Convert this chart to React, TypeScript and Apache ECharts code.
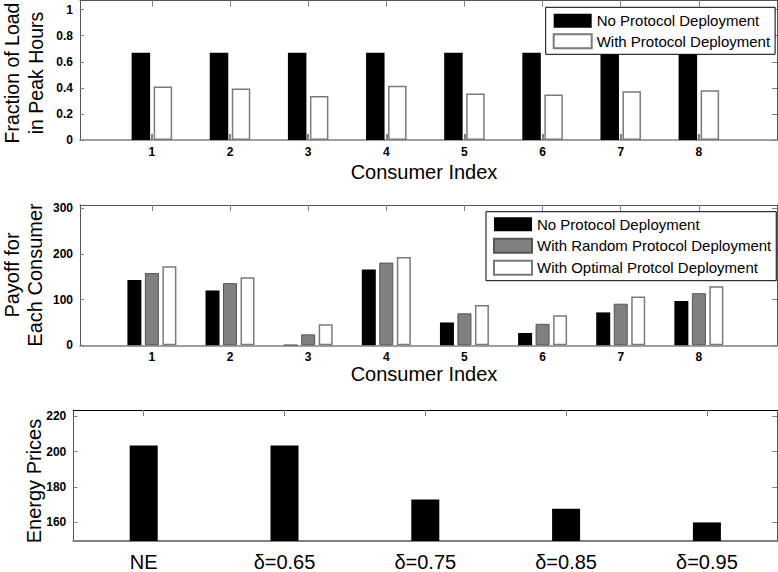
import React, { useEffect, useRef } from "react";
import * as echarts from "echarts";

const consumers = [1, 2, 3, 4, 5, 6, 7, 8];
const loadNoProtocol = [0.67, 0.67, 0.67, 0.67, 0.67, 0.67, 0.67, 0.67];
const loadWithProtocol = [0.41, 0.395, 0.338, 0.417, 0.356, 0.349, 0.374, 0.382];

const payoffNo = [143, 120, 1.5, 166, 50, 27, 72, 97];
const payoffRandom = [158, 136, 24, 181, 70, 47, 91, 114];
const payoffOptimal = [173, 149, 46, 193, 88, 66, 107, 129];

const priceLabels = ["NE", "δ=0.65", "δ=0.75", "δ=0.85", "δ=0.95"];
const prices = [203.5, 203.5, 173, 167.7, 160];

const loadTicks = [0, 0.2, 0.4, 0.6, 0.8, 1];
const payoffTicks = [0, 100, 200, 300];
const priceTicks = [160, 180, 200, 220];

const FONT = "Liberation Sans, Arial, sans-serif";
const AXIS_DARK = "#555";
const AXIS_GRAY = "#808080";

const tickLabel = { fontFamily: FONT, fontSize: 12, fontWeight: "bold" as const, color: "#000" };

function xValueAxis(gridIndex: number, position: "bottom" | "top") {
  const bottom = position === "bottom";
  return {
    type: "value",
    gridIndex,
    position,
    min: 0.08,
    max: 9,
    axisLine: { show: true, onZero: false, lineStyle: { color: bottom ? AXIS_GRAY : AXIS_DARK, width: bottom ? 1.5 : 1 } },
    axisTick: { show: true, inside: true, length: 6, customValues: consumers, lineStyle: { color: AXIS_GRAY, width: bottom ? 2 : 1 } },
    axisLabel: bottom
      ? { show: true, customValues: consumers, margin: 6, ...tickLabel }
      : { show: false },
    splitLine: { show: false },
  };
}

function yValueAxis(
  gridIndex: number,
  position: "left" | "right",
  min: number,
  max: number,
  ticks: number[],
  fmt: (v: number) => string
) {
  const left = position === "left";
  return {
    type: "value",
    gridIndex,
    position,
    min,
    max,
    axisLine: { show: true, onZero: false, lineStyle: { color: AXIS_DARK, width: 1 } },
    axisTick: { show: true, inside: true, length: left ? 4 : 5, customValues: ticks, lineStyle: { color: AXIS_GRAY } },
    axisLabel: left
      ? { show: true, customValues: ticks, margin: 7, formatter: fmt, ...tickLabel }
      : { show: false },
    splitLine: { show: false },
  };
}

function catAxis(gridIndex: number, position: "bottom" | "top") {
  const bottom = position === "bottom";
  return {
    type: "category",
    gridIndex,
    position,
    data: priceLabels,
    boundaryGap: true,
    axisLine: { show: true, onZero: false, lineStyle: { color: bottom ? AXIS_GRAY : "#000", width: bottom ? 2 : 1 } },
    axisTick: { show: !bottom, inside: true, alignWithLabel: true, length: 6, lineStyle: { color: AXIS_GRAY } },
    axisLabel: bottom
      ? { show: true, margin: 11, fontFamily: FONT, fontSize: 20, color: "#000", lineHeight: 20 }
      : { show: false },
    splitLine: { show: false },
  };
}

const blackStyle = { color: "#000", borderColor: "#000", borderWidth: 0 };
const grayStyle = { color: "#808080", borderColor: "#555", borderWidth: 1 };
const whiteStyle = { color: "#fff", borderColor: "#7a7a7a", borderWidth: 1.5 };

function ytitle(text: string, x: number, y: number, size = 20) {
  return {
    type: "text",
    x,
    y,
    rotation: Math.PI / 2,
    style: {
      text,
      font: `${size}px ${FONT}`,
      fill: "#000",
      textAlign: "center",
      textVerticalAlign: "middle",
    },
  };
}

function xtitle(text: string, x: number, y: number) {
  return {
    type: "text",
    x,
    y,
    style: {
      text,
      font: `20px ${FONT}`,
      fill: "#000",
      textAlign: "center",
      textVerticalAlign: "middle",
    },
  };
}

const legendBase = {
  orient: "vertical",
  icon: "rect",
  itemWidth: 38,
  itemHeight: 14,
  borderColor: "#000",
  borderWidth: 1,
  backgroundColor: "#fff",
  selectedMode: false,
  textStyle: { fontFamily: FONT, fontSize: 15, color: "#000", lineHeight: 14 },
};

export default function App() {
  const ref = useRef<HTMLDivElement>(null);

  useEffect(() => {
    document.body.style.margin = "0";
    const chart = echarts.init(ref.current as HTMLDivElement, null, { renderer: "svg" });
    const fmtLoad = (v: number) => (v === 0 ? "0" : String(Number(v.toFixed(1))));
    const fmtInt = (v: number) => String(Math.round(v));

    const option: any = {
      animation: false,
      backgroundColor: "#fff",
      textStyle: { fontFamily: FONT },
      grid: [
        { left: 80, top: 0.5, width: 697, height: 139.5 },
        { left: 80, top: 205, width: 697, height: 140.3 },
        { left: 73.3, top: 410, width: 704, height: 140.7 },
      ],
      xAxis: [
        xValueAxis(0, "bottom"),
        xValueAxis(0, "top"),
        xValueAxis(1, "bottom"),
        xValueAxis(1, "top"),
        catAxis(2, "bottom"),
        catAxis(2, "top"),
      ],
      yAxis: [
        yValueAxis(0, "left", 0, 1.07, loadTicks, fmtLoad),
        yValueAxis(0, "right", 0, 1.07, loadTicks, fmtLoad),
        yValueAxis(1, "left", 0, 307, payoffTicks, fmtInt),
        yValueAxis(1, "right", 0, 307, payoffTicks, fmtInt),
        yValueAxis(2, "left", 149.5, 223.5, priceTicks, fmtInt),
        yValueAxis(2, "right", 149.5, 223.5, priceTicks, fmtInt),
      ],
      legend: [
        {
          ...legendBase,
          data: ["No Protocol Deployment", "With Protocol Deployment"],
          left: 545.7,
          top: 7.3,
          itemGap: 5,
          padding: [6, 5, 5, 7],
        },
        {
          ...legendBase,
          data: ["No Protocol Deployment", "With Random Protocol Deployment", "With Optimal Protcol Deployment"],
          left: 486,
          top: 211.7,
          itemGap: 6,
          padding: [5, 5, 5, 7],
        },
      ],
      series: [
        {
          name: "No Protocol Deployment",
          type: "bar",
          xAxisIndex: 0,
          yAxisIndex: 0,
          barWidth: 18.5,
          barGap: "19%",
          itemStyle: blackStyle,
          data: consumers.map((c, i) => [c, loadNoProtocol[i]]),
        },
        {
          name: "With Protocol Deployment",
          type: "bar",
          xAxisIndex: 0,
          yAxisIndex: 0,
          barWidth: 18.5,
          barGap: "19%",
          itemStyle: whiteStyle,
          data: consumers.map((c, i) => [c, loadWithProtocol[i]]),
        },
        {
          name: "No Protocol Deployment",
          type: "bar",
          xAxisIndex: 2,
          yAxisIndex: 2,
          barWidth: 14,
          barGap: "25%",
          itemStyle: blackStyle,
          data: consumers.map((c, i) => [c, payoffNo[i]]),
        },
        {
          name: "With Random Protocol Deployment",
          type: "bar",
          xAxisIndex: 2,
          yAxisIndex: 2,
          barWidth: 14,
          barGap: "25%",
          itemStyle: grayStyle,
          data: consumers.map((c, i) => [c, payoffRandom[i]]),
        },
        {
          name: "With Optimal Protcol Deployment",
          type: "bar",
          xAxisIndex: 2,
          yAxisIndex: 2,
          barWidth: 14,
          barGap: "25%",
          itemStyle: whiteStyle,
          data: consumers.map((c, i) => [c, payoffOptimal[i]]),
        },
        {
          name: "Energy Prices",
          type: "bar",
          xAxisIndex: 4,
          yAxisIndex: 4,
          barWidth: 28,
          itemStyle: blackStyle,
          data: prices,
        },
      ],
      graphic: [
        ytitle("Fraction of Load", 12, 73, 19.5),
        ytitle("in Peak Hours", 36, 73, 19.5),
        ytitle("Payoff for", 12, 275),
        ytitle("Each Consumer", 35, 275),
        ytitle("Energy Prices", 34, 481),
        xtitle("Consumer Index", 424, 172),
        xtitle("Consumer Index", 424, 374),
      ],
    };

    chart.setOption(option);
    return () => chart.dispose();
  }, []);

  return <div ref={ref} style={{ width: 778, height: 572 }} />;
}
